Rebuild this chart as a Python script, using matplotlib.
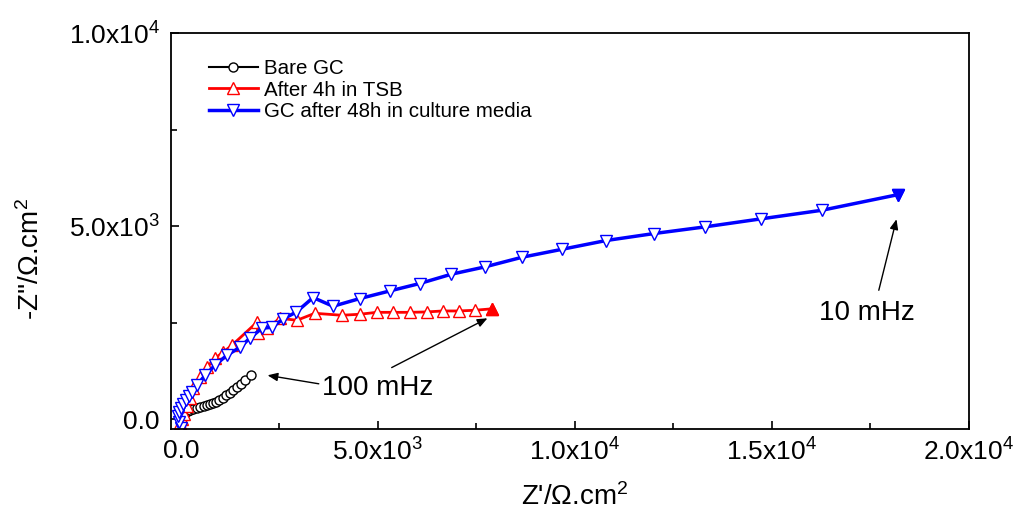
import matplotlib
matplotlib.use("Agg")
import matplotlib.pyplot as plt
from matplotlib.ticker import MultipleLocator, FixedLocator

plt.rcParams['font.family'] = ['Liberation Sans', 'DejaVu Sans']

# Bare GC
bare_x = [0, 20, 60, 110, 170, 240, 320, 400, 490, 580, 660, 740, 820, 900, 980,
          1060, 1150, 1240, 1330, 1430, 1530, 1640, 1780]
bare_y = [0, 40, 100, 160, 210, 250, 280, 300, 320, 340, 360, 390, 420, 460, 500,
          560, 620, 690, 760, 830, 910, 1010, 1140]

# After 4h in TSB
tsb_x = [-30, 30, 80, 150, 220, 311, 486, 664, 866, 1069, 1297, 1930, 1955, 2183,
         2513, 2944, 3400, 4084, 4540, 4970, 5376, 5806, 6237, 6642, 7047, 7452, 7908]
tsb_y = [-100, 0, 150, 350, 550, 803, 1088, 1347, 1580, 1735, 1917, 2512, 2227, 2357,
         2616, 2564, 2745, 2694, 2720, 2770, 2770, 2770, 2780, 2805, 2805, 2823, 2862]

# GC after 48h in culture media
cm_x = [0, -50, -60, -40, 0, 60, 130, 200, 280, 410, 613, 866, 1170, 1500, 1750,
        2056, 2310, 2600, 2933, 3356, 3863, 4540, 5300, 6060, 6862, 7713, 8660,
        9681, 10788, 12012, 13296, 14714, 16275, 18192]
cm_y = [-230, -80, 80, 200, 300, 400, 500, 600, 720, 880, 1140, 1400, 1660, 1865, 2100,
        2357, 2383, 2600, 2779, 3152, 2927, 3126, 3323, 3515, 3756, 3945, 4196,
        4403, 4628, 4810, 4981, 5188, 5413, 5815]

x_ticks = [0, 5000, 10000, 15000, 20000]
x_labels = ['0.0', r'$\mathregular{5.0x10^{3}}$', r'$\mathregular{1.0x10^{4}}$',
            r'$\mathregular{1.5x10^{4}}$', r'$\mathregular{2.0x10^{4}}$']
y_ticks = [0, 5000, 10000]
y_labels = ['0.0', r'$\mathregular{5.0x10^{3}}$', r'$\mathregular{1.0x10^{4}}$']

fig = plt.figure(figsize=(10.18, 5.25), dpi=100)
ax = fig.add_axes([171/1018, 1-429/525, (969-171)/1018, (429-33)/525])

ax.plot(bare_x, bare_y, color='black', lw=1.5, marker='o', ms=6.5, mfc='white',
        mec='black', mew=1.0, label='Bare GC')
ax.plot(tsb_x, tsb_y, color='red', lw=2.0, marker='^', ms=9, mfc='white',
        mec='red', mew=1.0, label='After 4h in TSB')
ax.plot(tsb_x[-1:], tsb_y[-1:], color='red', marker='^', ms=9, ls='none')
ax.plot(cm_x, cm_y, color='blue', lw=2.5, marker='v', ms=9, mfc='white',
        mec='blue', mew=1.0, label='GC after 48h in culture media')
ax.plot(cm_x[-1:], cm_y[-1:], color='blue', marker='v', ms=9, ls='none')

ax.set_xlim(-250, 20000)
ax.set_ylim(-250, 10000)
ax.xaxis.set_major_locator(FixedLocator(x_ticks))
ax.set_xticklabels(x_labels)
ax.yaxis.set_major_locator(FixedLocator(y_ticks))
ax.set_yticklabels(y_labels)
ax.xaxis.set_minor_locator(MultipleLocator(2500))
ax.yaxis.set_minor_locator(MultipleLocator(2500))
ax.tick_params(which='both', direction='in', top=False, right=False, labelsize=19,
               width=1.2)
ax.tick_params(which='major', length=6)
ax.tick_params(which='minor', length=4)
ax.tick_params(axis='x', pad=7)
ax.tick_params(axis='y', pad=8)
for s in ax.spines.values():
    s.set_linewidth(1.3)

ax.set_xlabel(r"Z'/Ω.cm$\mathregular{^{2}}$", fontsize=20)
ax.set_ylabel(r"-Z''/Ω.cm$\mathregular{^{2}}$", fontsize=20)
ax.xaxis.set_label_coords(0.506, -0.138)
ax.yaxis.set_label_coords(-0.158, 0.43)

leg = ax.legend(loc='upper left', bbox_to_anchor=(0.047, 0.935), frameon=False,
                fontsize=14.8, handlelength=2.4, handletextpad=0.3,
                labelspacing=0.14, borderpad=0, borderaxespad=0)

arrow = dict(arrowstyle='-|>,head_length=0.6,head_width=0.25', color='black', lw=1.0,
             shrinkA=0, shrinkB=0)
ax.annotate('', xy=(2200, 1140), xytext=(3500, 920), arrowprops=arrow)
ax.annotate('', xy=(7780, 2616), xytext=(5350, 1340), arrowprops=arrow)
ax.annotate('', xy=(18160, 5180), xytext=(17711, 3341), arrowprops=arrow)
ax.text(3580, 800, '100 mHz', fontsize=20, ha='left', va='center')
ax.text(16190, 2760, '10 mHz', fontsize=20, ha='left', va='center')

fig.savefig('out.png', dpi=100)
